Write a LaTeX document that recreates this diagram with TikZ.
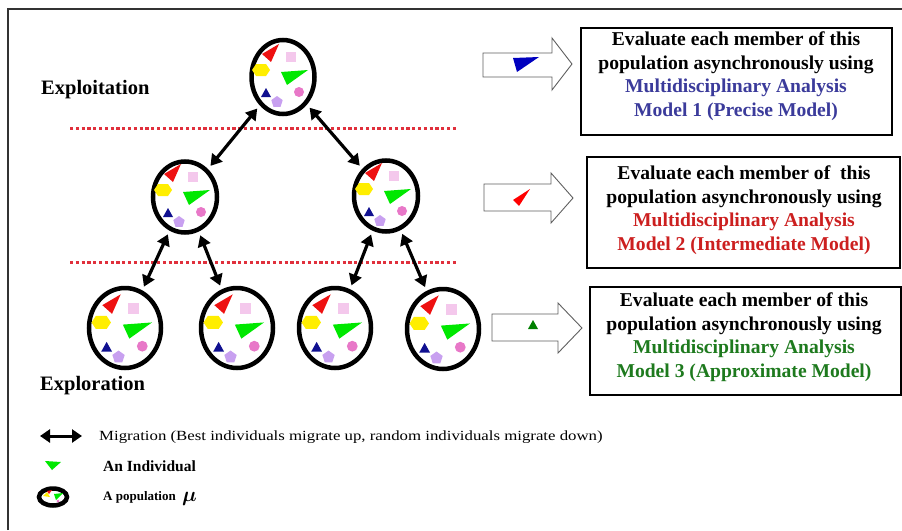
\documentclass[tikz,border=0pt]{standalone}
\usepackage{bm}
\usepackage{fontspec}
\setmainfont{Liberation Serif}
\usetikzlibrary{shapes.geometric,arrows.meta}
\definecolor{indred}{HTML}{EE1111}
\definecolor{indpink}{HTML}{F4C8EC}
\definecolor{indyellow}{HTML}{FFEE00}
\definecolor{indgreen}{HTML}{00E800}
\definecolor{indnavy}{HTML}{101090}
\definecolor{indviolet}{HTML}{C8A0F0}
\definecolor{indrose}{HTML}{E878C8}
\definecolor{txtblue}{HTML}{3B3B9B}
\definecolor{txtred}{HTML}{CC1F1F}
\definecolor{txtgreen}{HTML}{1E7A1E}
\definecolor{dotred}{HTML}{E0303C}
\definecolor{arrowgray}{HTML}{606060}
\tikzset{
  popnode/.style={draw=black, line width=4.5pt, ellipse, fill=white, inner sep=0pt},
  migr/.style={line width=3.2pt, {Triangle[length=11pt,width=13pt]}-{Triangle[length=11pt,width=13pt]}, shorten <=4pt, shorten >=4pt},
  levelline/.style={dotred, line width=3pt, dash pattern=on 3.2pt off 2.6pt},
  blockarrow/.style={draw=arrowgray, line width=0.9pt, fill=white, line join=miter},
  evalbox/.style={draw=black, line width=2.5pt, inner sep=0pt},
  evaltext/.style={inner sep=0pt, align=center, font=\fontsize{19.6}{23.5}\selectfont\bfseries},
  levellabel/.style={font=\fontsize{20.5}{22}\selectfont\bfseries, anchor=west, inner sep=0pt},
  legendtext/.style={anchor=west, inner sep=0pt},
  individuals/.pic={
    \fill[indred] (-21,-23) -- (-4,-33) -- (-12,-15) -- cycle;
    \fill[indpink] (3,-25) rectangle (13,-15);
    \fill[indyellow] (-31,-7) -- (-27,-13) -- (-17,-13) -- (-13,-7) -- (-17,-1) -- (-27,-1) -- cycle;
    \fill[indgreen] (-2,-5) -- (25,-7) -- (4,8) -- cycle;
    \fill[indnavy] (-22,20) -- (-12,20) -- (-17,11) -- cycle;
    \fill[indviolet] (-6,19) -- (-0.3,23.1) -- (-2.5,29.9) -- (-9.5,29.9) -- (-11.7,23.1) -- cycle;
    \fill[indrose] (16,15) circle (5);
  }
}
\begin{document}
\begin{tikzpicture}[x=1pt,y=-1pt]
\useasboundingbox (0,0) rectangle (902,530);
\fill[white] (0,0) rectangle (902,530);
% frame
\draw[line width=1.5pt, black!80] (8,530) -- (8,9) -- (902,9);

% level separators
\draw[levelline] (70,128) -- (458,128);
\draw[levelline] (70,262) -- (458,262);

% populations
\node[popnode, minimum width=63pt, minimum height=74pt] (top) at (283,77) {};
\pic at (283,77) {individuals};
\node[popnode, minimum width=64pt, minimum height=71pt] (ml) at (185,197) {};
\pic at (185,197) {individuals};
\node[popnode, minimum width=64pt, minimum height=71pt] (mr) at (386,196) {};
\pic at (386,196) {individuals};
\node[popnode, minimum width=72pt, minimum height=80pt] (b1) at (125,328) {};
\pic[scale=1.08] at (125,330) {individuals};
\node[popnode, minimum width=72pt, minimum height=80pt] (b2) at (237,328) {};
\pic[scale=1.08] at (237,330) {individuals};
\node[popnode, minimum width=72pt, minimum height=80pt] (b3) at (335,328) {};
\pic[scale=1.08] at (335,330) {individuals};
\node[popnode, minimum width=72pt, minimum height=80pt] (b4) at (443,329) {};
\pic[scale=1.08] at (443,331) {individuals};

% migration links
\draw[migr] (top) -- (ml);
\draw[migr] (top) -- (mr);
\draw[migr] (ml) -- (b1);
\draw[migr] (ml) -- (b2);
\draw[migr] (mr) -- (b3);
\draw[migr] (mr) -- (b4);

% level labels
\node[levellabel] (exploit) at (41,90) {Exploitation};
\node[levellabel] (explore) at (40,386) {Exploration};

% block arrows towards the evaluation boxes
\draw[blockarrow] (483,53) -- (552,53) -- (552,38) -- (572,64) -- (552,90) -- (552,77) -- (483,77) -- cycle;
\fill[blue!75!black] (513,58) -- (539,57) -- (517,72) -- cycle;
\draw[blockarrow] (484,184) -- (551,184) -- (551,173) -- (573,198) -- (551,223) -- (551,211) -- (484,211) -- cycle;
\fill[red] (513,200) -- (530,189) -- (519,206) -- cycle;
\draw[blockarrow] (492,314) -- (558,314) -- (558,303) -- (582,328) -- (558,353) -- (558,341) -- (492,341) -- cycle;
\fill[green!50!black] (528,329) -- (538,329) -- (533,320) -- cycle;

% evaluation boxes
\node[evalbox, minimum width=311pt, minimum height=107pt] (m1box) at (736.5,81.5) {};
\node[evaltext] (m1) at (736,76)
  {Evaluate each member of this\\population asynchronously using\\\textcolor{txtblue}{Multidisciplinary Analysis}\\\textcolor{txtblue}{Model 1 (Precise Model)}};
\node[evalbox, minimum width=313pt, minimum height=111pt] (m2box) at (743.5,212.5) {};
\node[evaltext] (m2) at (744,210)
  {Evaluate each member of\ \ this\\population asynchronously using\\\textcolor{txtred}{Multidisciplinary Analysis}\\\textcolor{txtred}{Model 2 (Intermediate Model)}};
\node[evalbox, minimum width=311pt, minimum height=108pt] (m3box) at (745.5,341) {};
\node[evaltext] (m3) at (744,337)
  {Evaluate each member of this\\population asynchronously using\\\textcolor{txtgreen}{Multidisciplinary Analysis}\\\textcolor{txtgreen}{Model 3 (Approximate Model)}};

% legend
\coordinate (lgA) at (40,436);
\coordinate (lgB) at (82,436);
\draw[line width=3pt, {Triangle[length=10pt,width=13pt]}-{Triangle[length=10pt,width=13pt]}] (lgA) -- (lgB);
\node[legendtext] (lg1) at (99,437) {\scalebox{1.2}[1]{\fontsize{14}{16}\selectfont Migration (Best individuals migrate up, random individuals migrate down)}};
\fill[indgreen] (45,461) -- (61,462) -- (52,470) -- cycle;
\node[legendtext] (lg2) at (103,466) {\fontsize{15.5}{17}\selectfont\bfseries An Individual};
\draw[line width=4.5pt, fill=white] (53,497) ellipse (14 and 8.5);
\fill[indyellow] (43,496) -- (47,492) -- (50,497) -- cycle;
\fill[indgreen] (54,494) -- (63,493) -- (56,500) -- cycle;
\fill[indred] (47,491) -- (52,490) -- (49,494) -- cycle;
\fill[indrose] (58,501) circle (1.5);
\node[legendtext] (lg3) at (103,497) {\fontsize{13}{15}\selectfont\bfseries A population};
\node[legendtext] (mu) at (182,499) {\fontsize{20}{20}\selectfont$\bm{\mu}$};
\end{tikzpicture}
\end{document}
